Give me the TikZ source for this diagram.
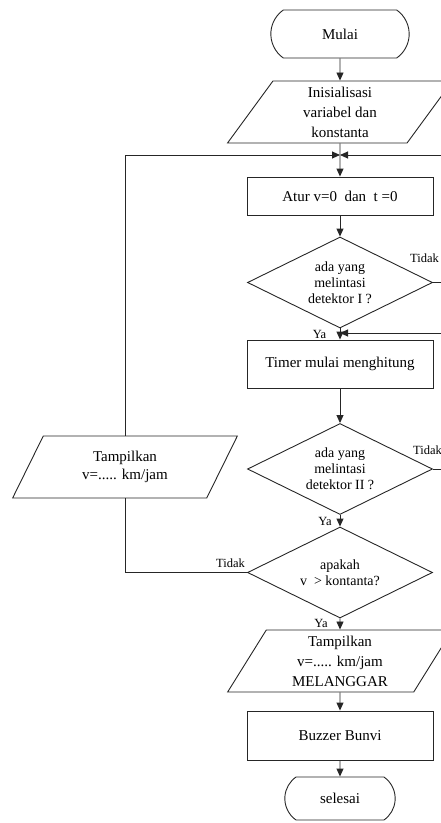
\documentclass[tikz,border=0pt]{standalone}
\usepackage{fontspec}
\setmainfont{Liberation Serif}
\usetikzlibrary{shapes.geometric,shapes.misc,arrows.meta}

\begin{document}
\begin{tikzpicture}[x=1pt,y=-1pt,
        garis/.style={draw=black!85, line width=0.9pt},
        panah/.style={garis, -{Triangle[length=8pt,width=7pt]}},
        terminal/.style={garis, rounded rectangle, rounded rectangle arc length=110, font=\fontsize{15}{18}\selectfont},
        proses/.style={garis, rectangle, minimum width=186pt, font=\fontsize{15}{18}\selectfont},
        io/.style={garis, trapezium, trapezium left angle=64, trapezium right angle=116, trapezium stretches=true, minimum width=225pt, minimum height=62pt, inner sep=1pt, align=center, font=\fontsize{15}{20}\selectfont},
        kep/.style={garis, diamond, aspect=2, inner sep=0pt, minimum width=185pt, minimum height=91pt, align=center, font=\fontsize{14}{16}\selectfont},
        ket/.style={inner sep=0pt, font=\fontsize{12.5}{14}\selectfont}]
        %BATAS
        \useasboundingbox (0,0) rectangle (441,823);
        \clip (0,0) rectangle (441,823);
        %BENTUK
        \node[terminal, minimum width=145pt, minimum height=48pt] (mulai) at (340,34) {Mulai};
        \node[io] (init) at (340,112) {Inisialisasi\\variabel dan\\konstanta};
        \node[proses, minimum height=38pt] (atur) at (340,196) {Atur v=0\ \ dan\ \ t =0};
        \node[kep] (cek1) at (340,282.5) {ada yang\\melintasi\\detektor I ?};
        \node[proses, minimum height=48pt] (timer) at (340,364) {Timer mulai menghitung};
        \node[kep] (cek2) at (340,469) {ada yang\\melintasi\\detektor II ?};
        \node[kep] (cek3) at (340,572.5) {apakah\\v\ \ > kontanta?};
        \node[io, font=\fontsize{15}{18}\selectfont] (tampil1) at (125,467) {Tampilkan\\v=..... km/jam};
        \node[io] (tampil2) at (340,661) {Tampilkan\\v=..... km/jam\\MELANGGAR};
        \node[proses, minimum height=49pt] (buzzer) at (340,735.5) {Buzzer Bunvi};
        \node[terminal, minimum width=117pt, minimum height=43pt] (selesai) at (340,798.5) {selesai};
        %KOORDINAT
        \coordinate (j1) at (340,155);
        \coordinate (j2) at (340,333);
        \coordinate (kanan1) at (465,155);
        \coordinate (kanan2) at (465,333);
        %GARIS
        \draw[panah] (mulai) -- (init);
        \draw[panah] (init) -- (atur);
        \draw[panah] (atur) -- (cek1);
        \draw[panah] (cek1) -- (timer);
        \draw[panah] (timer) -- (cek2);
        \draw[panah] (cek2) -- (cek3);
        \draw[panah] (cek3) -- (tampil2);
        \draw[panah] (tampil2) -- (buzzer);
        \draw[panah] (buzzer) -- (selesai);
        %GARIS BALIK
        \draw[panah] (tampil1.north) |- (j1);
        \draw[garis] (cek3.west) -| (tampil1.south);
        \draw[panah] (cek1.east) -| (kanan1) -- (j1);
        \draw[panah] (cek2.east) -| (kanan2) -- (j2);
        %LABEL
        \node[ket, anchor=west] (tidak1) at (410,258) {Tidak};
        \node[ket, anchor=west] (tidak2) at (413,450) {Tidak};
        \node[ket, anchor=east] (tidak3) at (245,563) {Tidak};
        \node[ket] (ya1) at (319.5,334) {Ya};
        \node[ket] (ya2) at (325,521) {Ya};
        \node[ket] (ya3) at (321,623) {Ya};
    \end{tikzpicture}
\end{document}
